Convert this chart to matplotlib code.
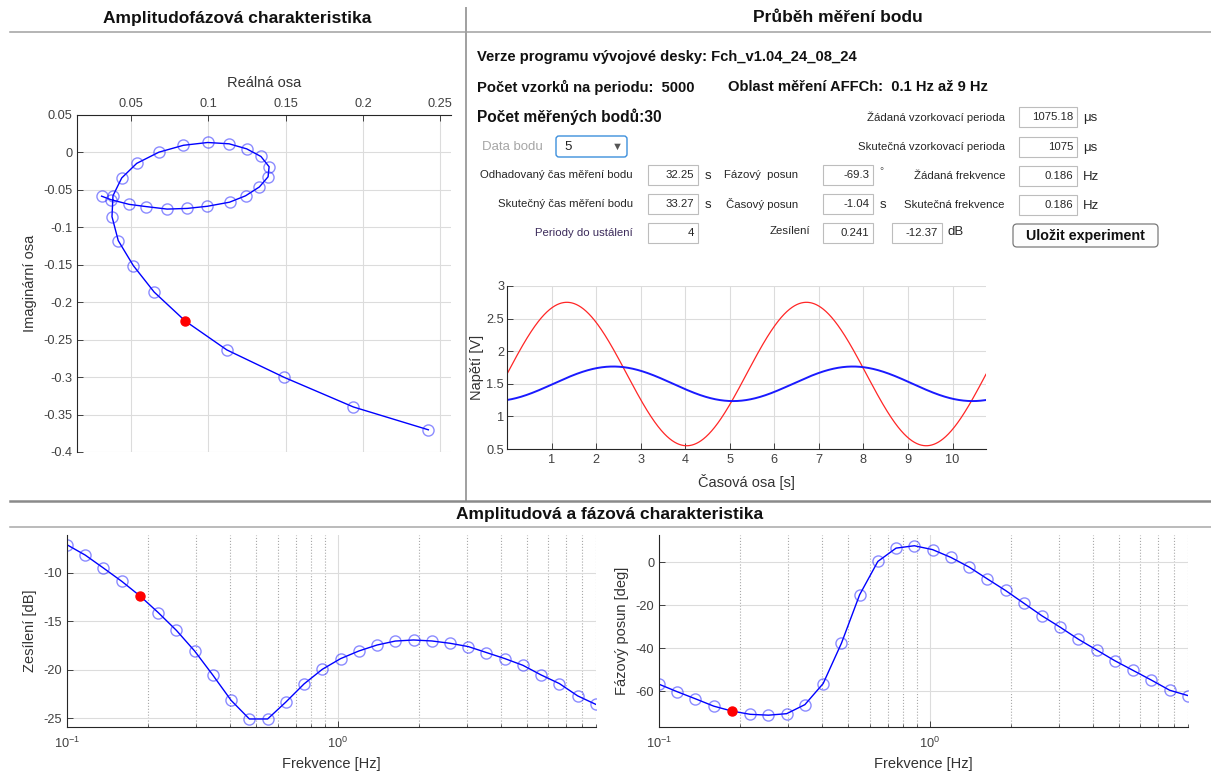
import numpy as np
import matplotlib
matplotlib.use('Agg')
import matplotlib.pyplot as plt
from matplotlib.patches import Rectangle, FancyBboxPatch
from matplotlib.ticker import FuncFormatter, NullFormatter

plt.rcParams['font.family'] = ['Liberation Sans', 'DejaVu Sans']
plt.rcParams['axes.unicode_minus'] = False
plt.rcParams['mathtext.fontset'] = 'custom'
plt.rcParams['mathtext.rm'] = 'Liberation Sans'

# measured points (30 frequencies, 0.1 Hz .. 9 Hz)
freq_hz = [0.1, 0.1168, 0.1364, 0.1593, 0.186, 0.2172, 0.2537, 0.2962, 0.3459, 0.404,
           0.4718, 0.551, 0.6434, 0.7514, 0.8775, 1.0247, 1.1967, 1.3975, 1.632, 1.9059,
           2.2258, 2.5993, 3.0355, 3.5448, 4.1397, 4.8344, 5.6457, 6.5931, 7.6995, 9.0]
gain_db = [-7.08, -8.15, -9.49, -10.86, -12.37, -14.09, -15.94, -18.07, -20.57, -23.18,
           -25.1, -25.1, -23.35, -21.47, -19.96, -18.86, -18.07, -17.45, -17.04, -16.93,
           -17.03, -17.27, -17.61, -18.23, -18.85, -19.55, -20.55, -21.44, -22.71, -23.6]
phase_deg = [-56.8, -60.3, -63.6, -67.0, -69.3, -70.8, -71.2, -70.5, -66.3, -56.5,
             -37.8, -15.2, 0.3, 6.5, 7.6, 5.8, 2.2, -2.3, -7.8, -13.2,
             -19.1, -25.0, -30.3, -35.9, -40.9, -45.9, -50.4, -54.9, -59.6, -62.1]
selected = 4  # "Data bodu" = 5

# time record of the selected point
t_end = 10.75
f_sel = 0.186
in_offset, in_amp = 1.65, 1.1
out_offset, out_amp, out_delay = 1.5, 0.265, 1.04

# values shown in the panel
col1_labels = ['Odhadovaný čas měření bodu', 'Skutečný čas měření bodu', 'Periody do ustálení']
col1_values = ['32.25', '33.27', '4']
col2_labels = ['Fázový  posun', 'Časový posun', 'Zesílení']
col2_values = ['-69.3', '-1.04', '0.241']
col3_labels = ['Žádaná vzorkovací perioda', 'Skutečná vzorkovací perioda',
               'Žádaná frekvence', 'Skutečná frekvence']
col3_values = ['1075.18', '1075', '0.186', '0.186']
col3_units = ['μs', 'μs', 'Hz', 'Hz']
gain_db_value = '-12.37'

f = np.array(freq_hz)
g = np.array(gain_db)
ph = np.array(phase_deg)
mag = 10 ** (g / 20)
re = mag * np.cos(np.deg2rad(ph))
im = mag * np.sin(np.deg2rad(ph))
others = np.arange(len(f)) != selected

W, H = 1211, 773
fig = plt.figure(figsize=(W / 100, H / 100), dpi=100)
bg = fig.add_axes([0, 0, 1, 1])
bg.set_xlim(0, W)
bg.set_ylim(H, 0)
bg.axis('off')


def px_axes(l, t, r, b):
    return fig.add_axes([l / W, 1 - b / H, (r - l) / W, (b - t) / H])


def style(ax):
    for s in ax.spines.values():
        s.set_color('#262626')
        s.set_linewidth(0.8)
    ax.tick_params(which='major', direction='in', length=4, width=0.6,
                   color='#262626', labelcolor='#404040', labelsize=9.2)
    ax.tick_params(which='minor', direction='in', length=2.5, width=0.5, color='#262626')
    ax.grid(True, which='major', color='#dcdcdc', lw=0.8)
    ax.set_axisbelow(True)


fmt = FuncFormatter(lambda v, p: '%g' % round(v, 6))
lab_kw = dict(fontsize=10.5, color='#333333')
blue = '#0000ff'
ring = (0.1, 0.1, 1.0, 0.5)

# separators and section titles
bg.plot([10, W], [32, 32], color='#a0a0a0', lw=1.1)
bg.plot([466, 466], [8, 500], color='#a0a0a0', lw=1.4)
bg.plot([10, W], [501, 501], color='#8a8a8a', lw=1.8)
bg.plot([10, W], [527, 527], color='#a8a8a8', lw=1.1)
bg.text(237, 18, 'Amplitudofázová charakteristika', ha='center', va='center',
        fontsize=12.5, weight='bold', color='#111111')
bg.text(838, 18, 'Průběh měření bodu', ha='center', va='center',
        fontsize=12.5, weight='bold', color='#111111')
bg.text(610, 514, 'Amplitudová a fázová charakteristika', ha='center', va='center',
        fontsize=12.5, weight='bold', color='#111111')

# Nyquist plot
nq = px_axes(77, 115, 451, 452)
style(nq)
nq.plot(re, im, '-', color=blue, lw=1)
nq.plot(re[others], im[others], 'o', ms=8, mfc='none', mec=ring, mew=1)
nq.plot(re[selected], im[selected], 'o', ms=6.5, color='red')
nq.set_xlim(0.015, 0.257)
nq.set_ylim(-0.4, 0.05)
nq.set_xticks([0.05, 0.1, 0.15, 0.2, 0.25])
nq.set_yticks([-0.4, -0.35, -0.3, -0.25, -0.2, -0.15, -0.1, -0.05, 0, 0.05])
nq.xaxis.set_major_formatter(fmt)
nq.yaxis.set_major_formatter(fmt)
nq.xaxis.tick_top()
nq.xaxis.set_label_position('top')
nq.spines['right'].set_visible(False)
nq.spines['bottom'].set_visible(False)
nq.set_xlabel('Reálná osa', **lab_kw)
nq.set_ylabel('Imaginární osa', **lab_kw)
nq.xaxis.set_label_coords(0.5, (452 - 83) / 337)
nq.xaxis.label.set_va('center')
nq.yaxis.set_label_coords((30 - 77) / 374, 0.5)
nq.yaxis.label.set_va('center')

# time record
tp = px_axes(507, 286, 986, 449)
style(tp)
tp.tick_params(axis='y', pad=2)
t = np.linspace(0, t_end, 3000)
u_in = in_offset + in_amp * np.sin(2 * np.pi * f_sel * t)
u_out = out_offset + out_amp * np.sin(2 * np.pi * f_sel * (t - out_delay))
tp.plot(t, u_in, color='#ff2626', lw=0.9)
tp.plot(t, u_out, color='#1a1aff', lw=1.4)
tp.set_xlim(0, t_end)
tp.set_ylim(0.5, 3)
tp.set_xticks(range(1, 11))
tp.set_yticks([0.5, 1, 1.5, 2, 2.5, 3])
tp.xaxis.set_major_formatter(fmt)
tp.yaxis.set_major_formatter(fmt)
tp.spines['right'].set_visible(False)
tp.spines['top'].set_visible(False)
tp.set_xlabel('Časová osa [s]', **lab_kw)
tp.set_ylabel('Napětí [V]', **lab_kw)
tp.xaxis.set_label_coords(0.5, (449 - 482) / 163)
tp.xaxis.label.set_va('center')
tp.yaxis.set_label_coords((477 - 507) / 479, 0.5)
tp.yaxis.label.set_va('center')


def bode_axes(l, r, y, ylim, yticks, ylabel):
    ax = px_axes(l, 535, r, 727)
    ax.set_xscale('log')
    style(ax)
    ax.grid(True, which='minor', axis='x', color='#a8a8a8', ls=':', lw=0.8)
    ax.plot(f, y, '-', color=blue, lw=1)
    ax.plot(f[others], y[others], 'o', ms=8, mfc='none', mec=ring, mew=1)
    ax.plot(f[selected], y[selected], 'o', ms=6.5, color='red')
    ax.set_xlim(0.1, 9)
    ax.set_ylim(*ylim)
    ax.set_yticks(yticks)
    ax.yaxis.set_major_formatter(fmt)
    ax.xaxis.set_minor_formatter(NullFormatter())
    ax.spines['right'].set_visible(False)
    ax.spines['top'].set_visible(False)
    ax.tick_params(axis='x', pad=6)
    ax.set_xlabel('Frekvence [Hz]', **lab_kw)
    ax.set_ylabel(ylabel, **lab_kw)
    ax.xaxis.set_label_coords(0.5, (727 - 764) / 192)
    ax.xaxis.label.set_va('center')
    ax.yaxis.set_label_coords(-37 / (r - l), 0.5)
    ax.yaxis.label.set_va('center')
    return ax


bode_axes(67, 596, g, (-25.93, -6.07), [-25, -20, -15, -10], 'Zesílení [dB]')
bode_axes(659, 1188, ph, (-76.7, 12.6), [-60, -40, -20, 0], 'Fázový posun [deg]')

# measurement panel
head = dict(fontsize=10.6, weight='bold', color='#111111', va='center', ha='left')
bg.text(477, 57, 'Verze programu vývojové desky: Fch_v1.04_24_08_24', **head)
bg.text(477, 87, 'Počet vzorků na periodu:  5000', **head)
bg.text(728, 87, 'Oblast měření AFFCh:  0.1 Hz až 9 Hz', **head)
bg.text(477, 117, 'Počet měřených bodů:30', fontsize=11.2, weight='bold',
        color='#111111', va='center', ha='left')

small = dict(fontsize=8.2, color='#262626', va='center')
unit = dict(fontsize=9.5, color='#262626', va='center', ha='left')


def box(x0, y0, x1, y1, val):
    bg.add_patch(Rectangle((x0, y0), x1 - x0, y1 - y0, fc='white', ec='#bdbdbd', lw=0.8))
    bg.text(x1 - 4, (y0 + y1) / 2, val, ha='right', **small)


# data point selector
bg.text(482, 147, 'Data bodu', fontsize=9.5, color='#a6a6a6', va='center', ha='left')
bg.add_patch(FancyBboxPatch((556, 136), 71, 21, boxstyle='round,pad=0,rounding_size=3',
                            fc='white', ec='#3d8fdc', lw=1))
bg.text(564, 147, str(selected + 1), fontsize=9.5, color='#222222', va='center', ha='left')
bg.text(617, 147, '▼', fontsize=8, color='#555555', va='center', ha='center')

rows = [175, 204, 233]
for i, y in enumerate(rows):
    c = '#3b2a5a' if i == 2 else '#262626'
    bg.text(633, y, col1_labels[i], ha='right', fontsize=8.2, color=c, va='center')
    box(648, y - 10, 698, y + 10, col1_values[i])
    bg.text(810 if i == 2 else 798, y - 2 if i == 2 else y, col2_labels[i], ha='right', **small)
    box(823, y - 10, 873, y + 10, col2_values[i])
bg.text(705, 176, 's', **unit)
bg.text(705, 205, 's', **unit)
bg.text(879, 171, '°', fontsize=7.5, color='#555555', va='center', ha='left')
bg.text(880, 205, 's', **unit)
box(892, 223, 942, 243, gain_db_value)
bg.text(947, 232, 'dB', **unit)

rows3 = [117, 147, 176, 205]
for i, y in enumerate(rows3):
    bg.text(1005, y, col3_labels[i], ha='right', **small)
    box(1019, y - 10, 1077, y + 10, col3_values[i])
    bg.text(1083, y + 1, col3_units[i], **unit)

bg.add_patch(FancyBboxPatch((1013, 224), 145, 23, boxstyle='round,pad=0,rounding_size=4',
                            fc='#fdfdfd', ec='#7a7a7a', lw=0.9))
bg.text(1085, 236, 'Uložit experiment', fontsize=10.3, weight='bold', color='#111111',
        ha='center', va='center')

fig.savefig('out.png', dpi=100, facecolor='white')
